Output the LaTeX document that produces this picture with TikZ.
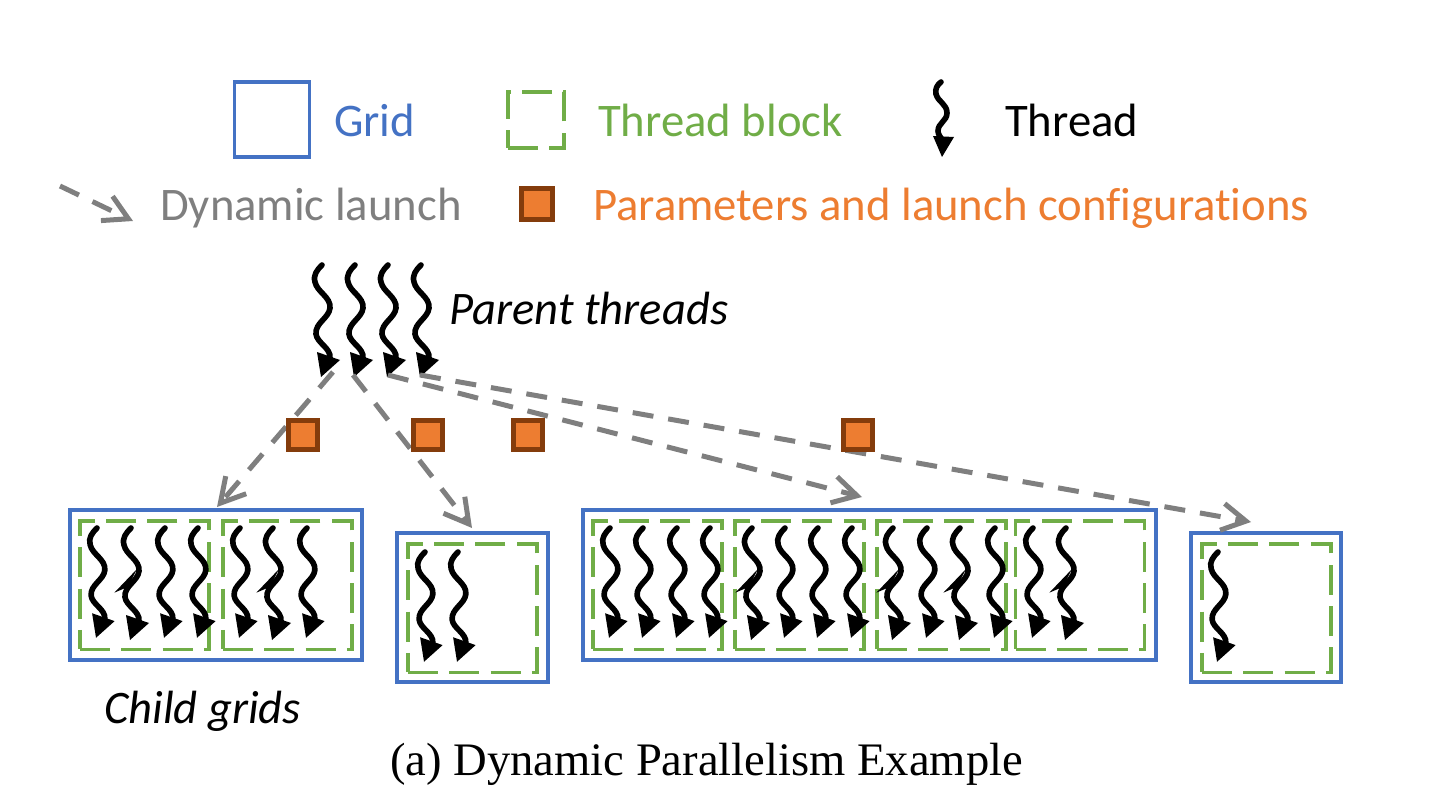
\documentclass[tikz,border=0pt]{standalone}
\usepackage{fontspec}
\usetikzlibrary{arrows.meta}
\setmainfont{Carlito}[Ligatures=NoCommon]
\newfontfamily\capfont{Liberation Serif}
\definecolor{gridblue}{HTML}{4472C4}
\definecolor{tbgreen}{HTML}{70AD47}
\definecolor{launchgray}{HTML}{7F7F7F}
\definecolor{paramfill}{HTML}{ED7D31}
\definecolor{paramline}{HTML}{843C0C}
\tikzset{
  x=1pt,y=-1pt,
  gridbox/.style={draw=gridblue,line width=3.6pt,inner sep=0pt,outer sep=0pt},
  tbbox/.style={minimum width=129pt,minimum height=128.5pt,inner sep=0pt,outer sep=0pt},
  tbline/.style={draw=tbgreen,line width=3.5pt,dash pattern=on 30pt off 11.3pt},
  launch/.style={draw=launchgray,line width=5pt,dash pattern=on 21pt off 15pt,
    -{Straight Barb[length=24pt,width=27pt,line width=5pt]}},
  param/.style={draw=paramline,fill=paramfill,line width=4.6pt,minimum size=29pt,inner sep=0pt,outer sep=0pt},
  lbl/.style={anchor=base west,inner sep=0pt,font=\fontsize{46.7}{46.7}\selectfont},
  thr/.pic={
    \draw[black,line width=5.6pt,line cap=round]
      (0,0) .. controls (-5,5) and (-9,10) .. (-7,17)
      .. controls (-5,27) and (9,32) .. (8,43)
      .. controls (7,53) and (-7,58) .. (-6,69)
      .. controls (-5,78) and (9,83) .. (8,93);
    \fill[black] (-5,87) -- (18,95) -- (-1,112) -- cycle;
  },
  thrspur/.pic={
    \pic {thr};
    \fill[black] (6,42) -- (-17,66) -- (-3,60) -- cycle;
  },
  legthr/.pic={
    \draw[black,line width=5.6pt,line cap=round]
      (0,0) .. controls (-4,3) and (-6,7) .. (-5,12)
      .. controls (-3,20) and (6,22) .. (6,31)
      .. controls (6,39) and (-3,41) .. (-3,49)
      .. controls (-3,53) and (0,55) .. (1,58);
    \fill[black] (-8,54) -- (13,55) -- (1,75) -- cycle;
  }
}
\begin{document}
\begin{tikzpicture}
\useasboundingbox (0,0) rectangle (1435,802);
% legend
\node[gridbox,minimum width=75pt,minimum height=75pt] (legGrid) at (272,119.5) {};
\node[lbl,text=gridblue] (legGridText) at (334,137) {Grid};
\node[tbbox,minimum width=56pt,minimum height=56pt] (legTb) at (536,120) {};
\draw[tbline] (legTb.south west) -| (legTb.north east) -| (legTb.south west) -- cycle;
\node[lbl,text=tbgreen] (legTbText) at (598,137) {Thread block};
\pic (legThr) at (941,82) {legthr};
\node[lbl,text=black] (legThrText) at (1005,137) {Thread};
\coordinate (legA) at (60,186);
\coordinate (legB) at (133,221);
\draw[launch] (legA) -- (legB);
\node[lbl,text=launchgray] (legLaunch) at (160,221) {Dynamic launch};
\node[param,minimum size=31pt] (legParam) at (537,204) {};
\node[lbl,text=paramfill] (legParamText) at (593,221) {Parameters and launch configurations};
% parent
\pic at (322,265) {thr};
\pic at (355,265) {thr};
\pic at (388,265) {thr};
\pic at (421,265) {thr};
\node[lbl,font=\fontsize{46.6}{46.6}\selectfont\itshape] (parentText) at (449,325) {Parent threads};
% grids
\node[gridbox,minimum width=292pt,minimum height=150pt] (g1) at (216,585) {};
\node[gridbox,minimum width=151pt,minimum height=149pt] (g2) at (472.5,607.5) {};
\node[gridbox,minimum width=573pt,minimum height=150pt] (g3) at (869.5,585) {};
\node[gridbox,minimum width=150pt,minimum height=149pt] (g4) at (1266,607.5) {};
\foreach \nm/\cx/\cy in {a/144.5/585,b/287.5/585,c/472.5/608,d/657.5/585,e/799.5/585,f/941.5/585,g/1080/585,h/1266.5/608}{
  \node[tbbox] (t\nm) at (\cx,\cy) {};
  \draw[tbline] (t\nm.south west) -| (t\nm.north east) -| (t\nm.south west) -- cycle;
}
% child threads
\foreach \x in {97,165,198,240,307,610,643,677,710,785,818,852,927,995,1033}{
  \pic[scale=0.98] at (\x,528) {thr};
}
\foreach \x in {131,273,752,893,960,1066}{
  \pic[scale=0.98] at (\x,528) {thrspur};
}
\foreach \x in {425,458,1218}{ \pic[scale=0.98] at (\x,552) {thr}; }
% launch
\coordinate (s1) at (333,372);
\coordinate (s2) at (353,375);
\coordinate (s3) at (388,375);
\coordinate (s4) at (420,375);
\coordinate (e1) at (217,507);
\coordinate (e2) at (472,528);
\coordinate (e3) at (862,497);
\coordinate (e4) at (1251,522);
\draw[launch] (s1) -- (e1);
\draw[launch] (s2) -- (e2);
\draw[launch] (s3) -- (e3);
\draw[launch] (s4) -- (e4);
% parameters
\node[param] (q1) at (303,435) {};
\node[param] (q2) at (428,435) {};
\node[param] (q3) at (528,435) {};
\node[param] (q4) at (858,435) {};
\node[lbl,font=\fontsize{46.6}{46.6}\selectfont\itshape] (childText) at (104,723) {Child grids};
\node[lbl,font=\fontsize{46.6}{46.6}\selectfont\capfont] (caption) at (390,775) {(a) Dynamic Parallelism Example};
\end{tikzpicture}
\end{document}
